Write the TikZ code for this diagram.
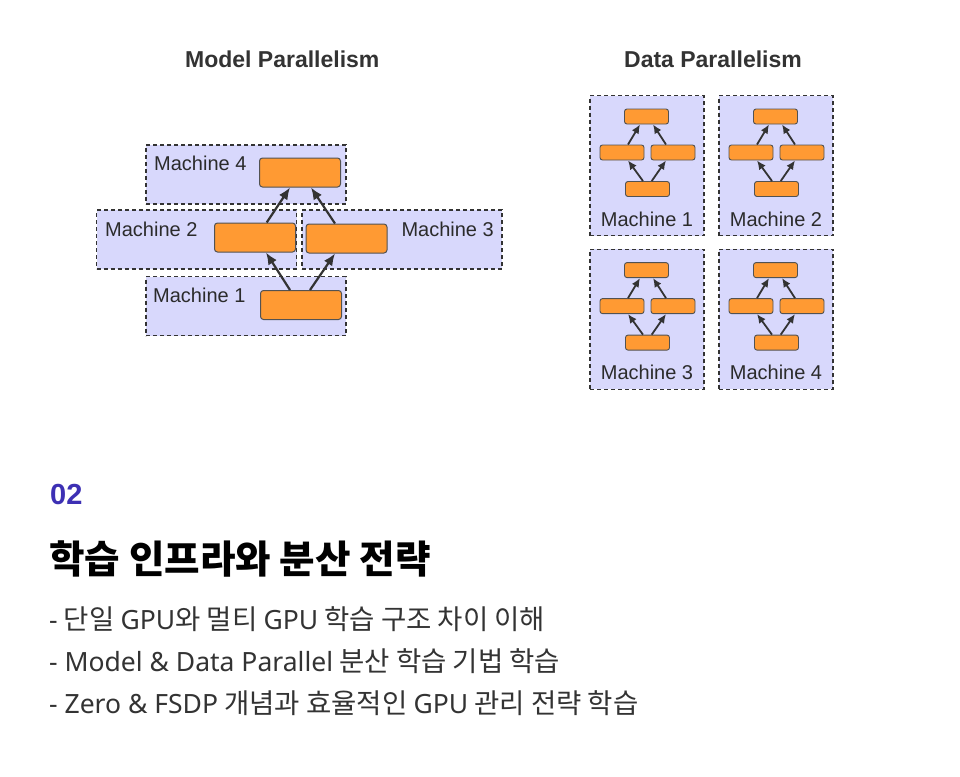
\documentclass[tikz,border=0pt]{standalone}
\usepackage{fontspec}
\setmainfont{Noto Sans CJK KR}
\newfontfamily\labelfont{Liberation Sans}
\newfontfamily\latfont{Noto Sans}
\newcommand{\lat}[1]{{\latfont\fontsize{26.5}{30}\selectfont #1}}
\usetikzlibrary{arrows.meta,positioning}
\definecolor{mp-fill}{HTML}{D8D8FC}
\definecolor{mp-edge}{HTML}{333333}
\definecolor{mp-block}{HTML}{FF9A33}
\definecolor{mp-text}{HTML}{333333}
\definecolor{mp-num}{HTML}{3D30B4}

\begin{document}
\begin{tikzpicture}[
    x=1pt, y=-1pt,
    machine/.style={draw=mp-edge, fill=mp-fill, dash pattern=on 4pt off 3pt, line width=1.5pt, inner sep=0pt},
    block/.style={draw=mp-edge!85, fill=mp-block, rounded corners=3pt, line width=1pt, minimum width=81pt, minimum height=29pt, inner sep=0pt},
    cell/.style={draw=mp-edge!85, fill=mp-block, rounded corners=2.5pt, line width=0.9pt, minimum width=44pt, minimum height=15pt, inner sep=0pt},
    mlabel/.style={text=mp-text!85!black, font=\labelfont\fontsize{20}{22}\selectfont, inner sep=0pt},
    heading/.style={text=mp-text, font=\labelfont\bfseries\fontsize{23}{26}\selectfont, inner sep=0pt, anchor=base},
    bullet/.style={text=mp-text, font=\fontsize{27.5}{30}\selectfont, inner sep=0pt, anchor=base west},
    conn/.style={-{Latex[length=12pt,width=10pt]}, line width=2.2pt, draw=mp-edge},
    sconn/.style={-{Latex[length=9pt,width=8pt]}, line width=1.8pt, draw=mp-edge}
]
\useasboundingbox[fill=white] (0,0) rectangle (960,776);

% ── Model Parallelism ─────────────────────────────────────────
\node[heading] (mptitle) at (282.3,67.3) {Model Parallelism};

\node[machine, minimum width=200pt, minimum height=59pt] (m4box) at (246,174.5) {};
\node[machine, minimum width=200pt, minimum height=59pt] (m2box) at (196.5,239.5) {};
\node[machine, minimum width=200pt, minimum height=59pt] (m3box) at (402,239.5) {};
\node[machine, minimum width=200pt, minimum height=59pt] (m1box) at (246,306) {};

\node[mlabel, anchor=base west] (m4lbl) at (154,170.5) {Machine 4};
\node[mlabel, anchor=base west] (m2lbl) at (105,236.7) {Machine 2};
\node[mlabel, anchor=base east] (m3lbl) at (494,236.7) {Machine 3};
\node[mlabel, anchor=base west] (m1lbl) at (153,302.3) {Machine 1};

\node[block] (m4blk) at (300,172.5) {};
\node[block] (m2blk) at (255,237.5) {};
\node[block] (m3blk) at (346.5,238.5) {};
\node[block] (m1blk) at (301,305) {};

\draw[conn] ([xshift=-11pt]m1blk.north) -- ([xshift=11pt]m2blk.south);
\draw[conn] ([xshift=9pt]m1blk.north) -- ([xshift=-11.5pt]m3blk.south);
\draw[conn] ([xshift=11.7pt]m2blk.north) -- ([xshift=-10pt]m4blk.south);
\draw[conn] ([xshift=-11.5pt]m3blk.north) -- ([xshift=11pt]m4blk.south);

% ── Data Parallelism ──────────────────────────────────────────
\node[heading] (dptitle) at (713,67.3) {Data Parallelism};

\foreach \cx/\cy/\k in {647/165.7/1, 776/165.7/2, 647/319.3/3, 776/319.3/4} {
    \node[machine, minimum width=114pt, minimum height=140pt] (d\k box) at (\cx,\cy) {};
    \node[cell] (d\k top) at (\cx-0.5,\cy-49.2) {};
    \node[cell] (d\k left) at (\cx-25,\cy-13.2) {};
    \node[cell] (d\k right) at (\cx+26,\cy-13.2) {};
    \node[cell] (d\k bot) at (\cx+0.5,\cy+23.3) {};
    \node[mlabel, anchor=base] (d\k lbl) at (\cx,\cy+60.3) {Machine \k};
    \draw[sconn] ([xshift=-4.5pt]d\k bot.north) -- ([xshift=6pt]d\k left.south);
    \draw[sconn] ([xshift=4.2pt]d\k bot.north) -- ([xshift=-7pt]d\k right.south);
    \draw[sconn] ([xshift=6pt]d\k left.north) -- ([xshift=-6.5pt]d\k top.south);
    \draw[sconn] ([xshift=-7pt]d\k right.north) -- ([xshift=6.5pt]d\k top.south);
}

% ── Course text ───────────────────────────────────────────────
\node[text=mp-num, font=\labelfont\bfseries\fontsize{29}{32}\selectfont, inner sep=0pt, anchor=base west] (num) at (50,504) {02};
\node[text=black, font=\bfseries\fontsize{38.6}{46}\selectfont, inner sep=0pt, anchor=base west] (title) at (49,573) {학습 인프라와 분산 전략};
\node[bullet] (b1) at (49,629) {\lat{-} 단일 \lat{GPU}와 멀티 \lat{GPU} 학습 구조 차이 이해};
\node[bullet] (b2) at (49,671) {\lat{- Model \& Data Parallel} 분산 학습 기법 학습};
\node[bullet] (b3) at (49,713) {\lat{- Zero \& FSDP} 개념과 효율적인 \lat{GPU} 관리 전략 학습};

\end{tikzpicture}
\end{document}
